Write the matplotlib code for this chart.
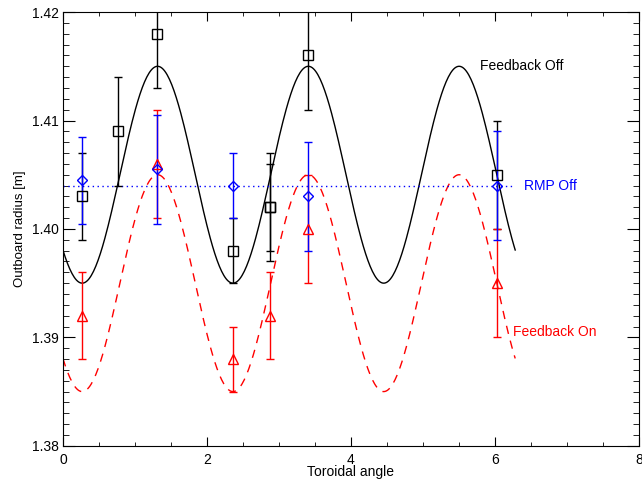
import numpy as np
import matplotlib
matplotlib.use('Agg')
import matplotlib.pyplot as plt
from matplotlib.ticker import MultipleLocator, FormatStrFormatter

plt.rcParams['font.family'] = ['Liberation Sans', 'DejaVu Sans']

# Feedback Off (black squares)
off_x = [0.26, 0.76, 1.31, 2.36, 2.88, 2.88, 3.41, 6.03]
off_y = [1.403, 1.409, 1.418, 1.398, 1.402, 1.402, 1.416, 1.405]
off_err = [0.004, 0.005, 0.005, 0.003, 0.005, 0.004, 0.005, 0.005]

# Feedback On (red triangles)
on_x = [0.26, 1.31, 2.36, 2.88, 3.41, 6.03]
on_y = [1.392, 1.406, 1.388, 1.392, 1.400, 1.395]
on_err = [0.004, 0.005, 0.003, 0.004, 0.005, 0.005]

# RMP Off (blue diamonds)
rmp_x = [0.26, 1.31, 2.36, 3.41, 6.03]
rmp_y = [1.4045, 1.4055, 1.404, 1.403, 1.404]
rmp_err = [0.004, 0.005, 0.003, 0.005, 0.005]

# fitted n=3 curves
off_mean, on_mean, rmp_level = 1.405, 1.395, 1.404
amp = 0.010
phase = 3.945

phi = np.linspace(0, 2 * np.pi, 400)
fit_off = off_mean + amp * np.cos(3 * phi - phase)
fit_on = on_mean + amp * np.cos(3 * phi - phase)

fig = plt.figure(figsize=(6.42, 4.83), dpi=100)
ax = fig.add_axes([0.098, 0.077, 0.897, 0.898])

ax.plot(phi, fit_off, color='black', lw=1)
ax.plot(phi, fit_on, color='red', lw=1, ls=(0, (6, 5)))
ax.plot([0, 2 * np.pi], [rmp_level, rmp_level], color='blue', lw=1, ls=(0, (1, 2.5)))

ax.errorbar(off_x, off_y, yerr=off_err, fmt='s', mfc='none', mec='black', ecolor='black',
            ms=7, mew=1, elinewidth=1, capsize=3, capthick=1)
ax.errorbar(on_x, on_y, yerr=on_err, fmt='^', mfc='none', mec='red', ecolor='red',
            ms=7, mew=1, elinewidth=1, capsize=3, capthick=1)
ax.errorbar(rmp_x, rmp_y, yerr=rmp_err, fmt='D', mfc='none', mec='blue', ecolor='blue',
            ms=5, mew=1, elinewidth=1, capsize=3, capthick=1)

ax.text(5.8, 1.415, 'Feedback Off', color='black', fontsize=10, va='center')
ax.text(6.4, 1.404, 'RMP Off', color='blue', fontsize=10, va='center')
ax.text(6.25, 1.3905, 'Feedback On', color='red', fontsize=10, va='center')

ax.set_xlim(0, 8)
ax.set_ylim(1.38, 1.42)
ax.xaxis.set_major_locator(MultipleLocator(2))
ax.xaxis.set_minor_locator(MultipleLocator(0.5))
ax.yaxis.set_major_locator(MultipleLocator(0.01))
ax.yaxis.set_minor_locator(MultipleLocator(0.001))
ax.yaxis.set_major_formatter(FormatStrFormatter('%.2f'))
ax.tick_params(which='both', direction='in', top=True, right=True, labelsize=10)
ax.tick_params(axis='x', which='major', length=6.5, pad=5)
ax.tick_params(axis='x', which='minor', length=3.2)
ax.tick_params(axis='y', which='major', length=8.6, pad=3)
ax.tick_params(axis='y', which='minor', length=4.3)

ax.set_xlabel('Toroidal angle', fontsize=10, labelpad=-1)
ax.set_ylabel('Outboard radius [m]', fontsize=9.5, labelpad=4)

plt.savefig('out.png')
